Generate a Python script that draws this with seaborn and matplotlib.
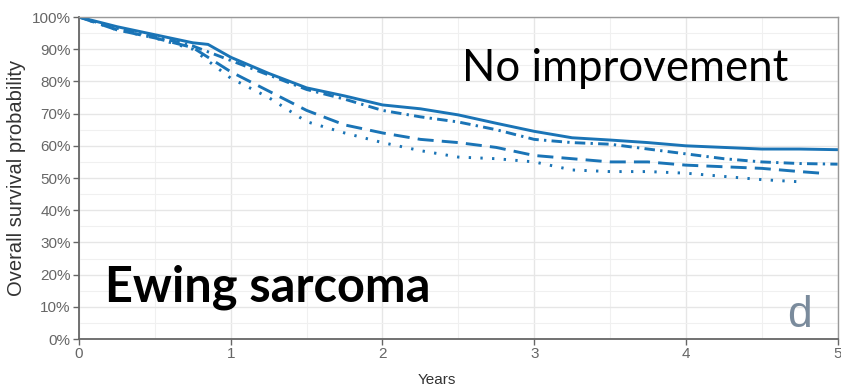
import numpy as np
import pandas as pd
import matplotlib
matplotlib.use("Agg")
import matplotlib.pyplot as plt
import seaborn as sns
from matplotlib.ticker import PercentFormatter, MultipleLocator

# ---- data ----
t_solid = [0, 0.25, 0.5, 0.75, 0.85, 1.0, 1.25, 1.5, 1.75, 2.0, 2.25, 2.5, 2.75, 3.0, 3.25, 3.5, 3.75, 4.0, 4.25, 4.5, 4.75, 5.0]
solid = [100, 97, 94.5, 92, 91.5, 87.5, 82.5, 78, 75.5, 72.7, 71.5, 69.6, 67, 64.5, 62.5, 61.8, 61, 60, 59.5, 59, 59, 58.8]

t_dashdot = [0, 0.25, 0.5, 0.75, 1.0, 1.25, 1.5, 1.75, 2.0, 2.25, 2.5, 2.75, 3.0, 3.25, 3.5, 3.75, 4.0, 4.25, 4.5, 4.75, 5.0]
dashdot = [100, 96.5, 94, 91, 86.5, 82, 77.5, 74.5, 71, 69, 67.4, 65, 62, 61, 60.5, 59, 57.5, 56, 55, 54.5, 54.3]

t_dashed = [0, 0.25, 0.5, 0.75, 1.0, 1.25, 1.5, 1.75, 2.0, 2.25, 2.5, 2.75, 3.0, 3.25, 3.5, 3.75, 4.0, 4.25, 4.5, 4.75, 4.89]
dashed = [100, 96, 93.5, 90.5, 83, 77, 71, 66.5, 64, 62, 61, 59.5, 57, 56, 55, 55, 54, 53.5, 53, 52, 51.5]

t_dotted = [0, 0.25, 0.5, 0.75, 1.0, 1.25, 1.5, 1.75, 2.0, 2.25, 2.5, 2.75, 3.0, 3.25, 3.5, 3.75, 4.0, 4.25, 4.5, 4.76]
dotted = [100, 96, 93.5, 90, 81, 75, 67.5, 64, 61, 58.5, 56.5, 56, 55, 52.5, 52, 52, 51.5, 50.5, 49.5, 48.8]

x_ticks = [0, 1, 2, 3, 4, 5]
y_ticks = [0, 10, 20, 30, 40, 50, 60, 70, 80, 90, 100]

frames = []
for name, tt, vv in [("solid", t_solid, solid), ("dashdot", t_dashdot, dashdot),
                     ("dashed", t_dashed, dashed), ("dotted", t_dotted, dotted)]:
    frames.append(pd.DataFrame({"Years": tt, "surv": vv, "grp": name}))
df = pd.concat(frames, ignore_index=True)

sns.set_style("white")
plt.rcParams['font.family'] = ['Liberation Sans', 'DejaVu Sans']

fig = plt.figure(figsize=(8.41, 3.87), dpi=100)
ax = fig.add_axes([0.094, 0.124, 0.902, 0.832])

line_color = "#1a74b6"
sns.lineplot(data=df, x="Years", y="surv", style="grp",
             dashes={"solid": "", "dashdot": (3.6, 1.8, 0.8, 1.8),
                     "dashed": (5.5, 2.8), "dotted": (0.8, 3.2)},
             color=line_color, linewidth=2.1, legend=False, ax=ax,
             estimator=None, sort=False)

ax.set_xlim(0, 5)
ax.set_ylim(0, 100)
ax.set_xticks(x_ticks)
ax.set_yticks(y_ticks)
ax.xaxis.set_minor_locator(MultipleLocator(0.5))
ax.yaxis.set_minor_locator(MultipleLocator(5))
ax.yaxis.set_major_formatter(PercentFormatter(decimals=0))
ax.grid(True, which="major", color="#e6e6e6", linewidth=1.0)
ax.grid(True, which="minor", color="#f0f0f0", linewidth=0.8)
ax.set_axisbelow(True)

for side in ["top", "right"]:
    ax.spines[side].set_color("#999999")
    ax.spines[side].set_linewidth(1.0)
for side in ["left", "bottom"]:
    ax.spines[side].set_color("#666666")
    ax.spines[side].set_linewidth(1.3)

ax.tick_params(axis="both", which="major", length=4, width=1, color="#666666",
               labelsize=11, labelcolor="#666666", pad=2, bottom=True, left=True)
ax.tick_params(axis="both", which="minor", length=0)

ax.set_xlabel("Years", fontsize=11, color="#333333")
ax.xaxis.set_label_coords(0.472, -0.105)
ax.set_ylabel("Overall survival probability", fontsize=14.5, color="#333333", labelpad=4)

ax.text(3.6, 84, "No improvement", fontsize=31.5, color="black",
        family=["Lato", "DejaVu Sans"], ha="center", va="center")
ax.text(0.17, 11.5, "Ewing sarcoma", fontsize=35, fontweight="bold", color="black",
        family=["Lato", "DejaVu Sans"], ha="left", va="baseline")
ax.text(4.75, 1, "d", fontsize=32, color="#7a8b9c", ha="center", va="bottom")

fig.savefig("out.png", dpi=100)
